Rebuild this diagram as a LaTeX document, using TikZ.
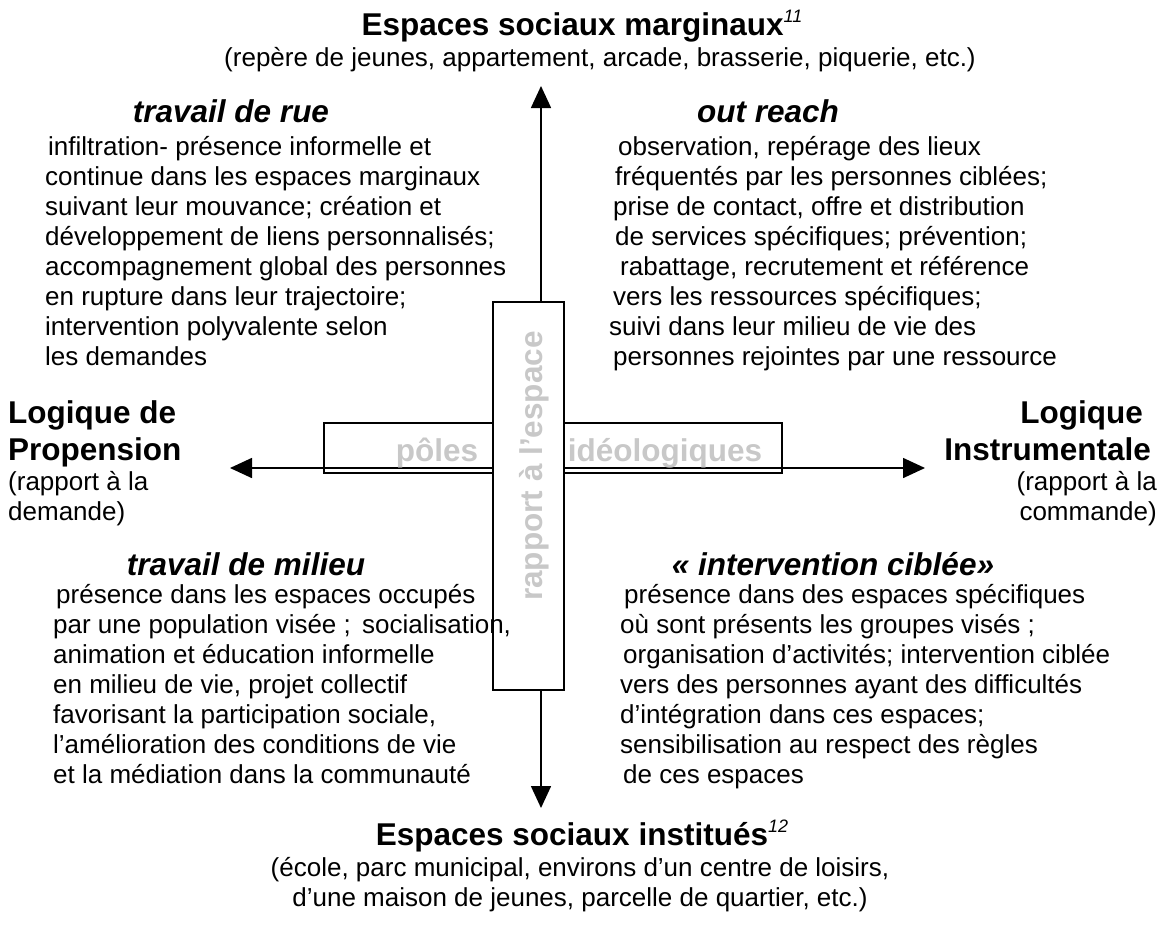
\documentclass[tikz,border=0pt]{standalone}
\usepackage{fontspec}
\setmainfont{Liberation Sans}
\usetikzlibrary{arrows.meta}
\definecolor{grisclair}{RGB}{200,200,200}
\newcommand{\expo}[1]{\raisebox{13pt}{\fontsize{18}{18}\selectfont\mdseries\itshape #1}}
\begin{document}
\begin{tikzpicture}
[x=1pt,y=-1pt,
  titre/.style={font=\fontsize{31.5}{37}\selectfont\bfseries,inner sep=0pt,anchor=base},
  entete/.style={font=\fontsize{31.5}{37}\selectfont\bfseries\itshape,inner sep=0pt,anchor=base},
  corps/.style={font=\fontsize{26}{30}\selectfont,inner sep=0pt,align=left,anchor=base west},
  pole/.style={font=\fontsize{31.5}{37}\selectfont\bfseries,text=grisclair,inner sep=0pt,anchor=base},
  cadre/.style={draw,line width=1.6pt,inner sep=0pt},
  fleche/.style={-{Triangle[length=22pt,width=20pt]},line width=1.6pt}]
\useasboundingbox (0,0) rectangle (1163,927);
%% axes
\coordinate (centre) at (541,468);
\coordinate (nord) at (541,86);
\coordinate (sud) at (541,808);
\coordinate (ouest) at (230,468);
\coordinate (est) at (925,468);
\path
\foreach \fin in {nord, sud, ouest, est} {
  (centre) edge[fleche] (\fin)
};
%% cadres du centre
\node[cadre,minimum width=458pt,minimum height=50pt] (cadrepoles) at (553,448) {};
\node[cadre,fill=white,minimum width=71pt,minimum height=388pt] (cadreespace) at (528.5,496) {};
\node[pole] (poles) at (437,461) {pôles};
\node[pole] (ideo) at (665,461) {idéologiques};
\node[pole,rotate=90] (espace) at (542,466) {rapport à l'espace};
%% poles des axes (ancre : ligne de base de la derniere ligne)
\node[titre] (marginaux) at (582,35) {Espaces sociaux marginaux\expo{11}};
\node[corps,anchor=base,align=center] (reperes) at (600,66)
  {(repère de jeunes, appartement, arcade, brasserie, piquerie, etc.)};
\node[titre] (institues) at (582,845) {Espaces sociaux institués\expo{12}};
\node[corps,anchor=base,align=center] (ecole) at (580,906)
  {(école, parc municipal, environs d’un centre de loisirs,\\
   d’une maison de jeunes, parcelle de quartier, etc.)};
\node[titre,anchor=base west,align=left] (propension) at (8,460) {Logique de\\Propension};
\node[corps] (demande) at (8,520) {(rapport à la\\demande)};
\node[titre,anchor=base east,align=right] (instrumentale) at (1151,460)
  {Logique\hspace*{8pt}\\Instrumentale};
\node[corps,anchor=base east,align=right] (commande) at (1157,520) {(rapport à la\\commande)};
%% quadrants
\foreach \nom/\x/\y/\texte in {rue/231/122/travail de rue, reach/768/122/out reach,
  milieu/246/575/travail de milieu, ciblee/833/575/{« intervention ciblée»}} {
  \node[entete] (\nom) at (\x,\y) {\texte};
}
\node[corps] (texterue) at (45,365)
  {\hspace*{3pt}infiltration- présence informelle et\\
   continue dans les espaces marginaux\\
   suivant leur mouvance; création et\\
   développement de liens personnalisés;\\
   accompagnement global des personnes\\
   en rupture dans leur trajectoire;\\
   intervention polyvalente selon\\
   les demandes};
\node[corps] (textereach) at (609,365)
  {\hspace*{9pt}observation, repérage des lieux\\
   \hspace*{6pt}fréquentés par les personnes ciblées;\\
   \hspace*{4pt}prise de contact, offre et distribution\\
   \hspace*{6pt}de services spécifiques; prévention;\\
   \hspace*{11pt}rabattage, recrutement et référence\\
   \hspace*{4pt}vers les ressources spécifiques;\\
   suivi dans leur milieu de vie des\\
   \hspace*{4pt}personnes rejointes par une ressource};
\node[corps] (textemilieu) at (53,783)
  {\hspace*{3pt}présence dans les espaces occupés\\
   par une population visée ;\hspace{4pt} socialisation,\\
   animation et éducation informelle\\
   en milieu de vie, projet collectif\\
   favorisant la participation sociale,\\
   l’amélioration des conditions de vie\\
   et la médiation dans la communauté};
\node[corps] (texteciblee) at (620,783)
  {\hspace*{4pt}présence dans des espaces spécifiques\\
   où sont présents les groupes visés ;\\
   \hspace*{3pt}organisation d’activités; intervention ciblée\\
   vers des personnes ayant des difficultés\\
   d’intégration dans ces espaces;\\
   sensibilisation au respect des règles\\
   \hspace*{3pt}de ces espaces};
\end{tikzpicture}
\end{document}
